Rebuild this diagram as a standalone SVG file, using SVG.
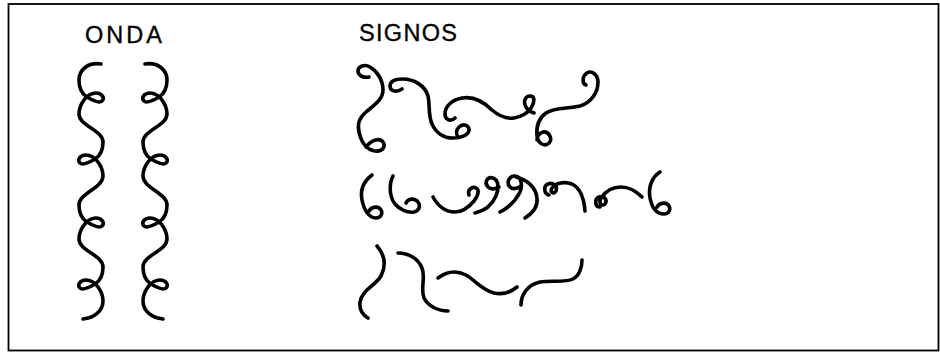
<svg xmlns="http://www.w3.org/2000/svg" xmlns:xlink="http://www.w3.org/1999/xlink" width="940" height="354" viewBox="0 0 940 354">
<style>
.s{fill:none;stroke:#000;stroke-width:3.6;stroke-linecap:round;stroke-linejoin:round}
.t{font-family:"Liberation Sans",Arial,sans-serif;font-size:23.5px;fill:#000;stroke:#000;stroke-width:0.35}
</style>
<defs>
<path id="wave" class="s" d="M101,64 C88,62 79,70 79,80 C79,88 82,94 87,97 C92,100 99,104 102,101 C105,98 102,93 96,93 C91,93 87,96 84,100 C81,104 79,108 79,114 C79,126 103,130 103,142 C103,150 100,156 95,159 C90,162 83,166 80,163 C77,160 80,155 86,155 C91,155 95,158 98,162 C101,166 103,170 103,176 C103,188 79,193 79,205 C79,213 82,219 87,222 C92,225 99,229 102,226 C105,223 102,218 96,218 C91,218 87,221 84,225 C81,229 79,233 79,239 C79,251 103,255 103,267 C103,275 100,281 95,284 C90,287 83,291 80,288 C77,285 80,280 86,280 C91,280 95,283 98,287 C101,291 103,295 103,301 C103,311 94,318 83,319"/>
</defs>
<rect x="8.5" y="4" width="930" height="346.5" fill="#fff" stroke="#000" stroke-width="1.8"/>
<text class="t" x="85" y="43" letter-spacing="3">ONDA</text>
<text class="t" x="359" y="41" letter-spacing="1.3">SIGNOS</text>
<g id="onda">
<use xlink:href="#wave"/>
<use xlink:href="#wave" transform="translate(246,0) scale(-1,1)"/>
</g>
<g id="signos-1">
<path class="s" d="M369,77 C364,78 358,76 358,71 C358,66 365,64 370,67 C377,71 383,80 383,90 C383,100 373,106 366,112 C360,117 357,124 359,132 C361,141 366,150 375,151 C383,152 386,146 383,142 C380,138 372,139 366,147"/>
<path class="s" d="M402,89 C396,93 390,91 390,86 C390,81 396,79 403,79 C413,79 425,85 428,96 C430,104 428,115 432,124 C436,133 444,138 453,138 C461,138 469,135 469,130 C469,125 463,123 459,127 C456,130 456,134 458,137"/>
<path class="s" d="M455,118 C451,122 445,120 445,114 C445,106 452,100 462,98 C474,96 484,102 492,110 C499,116 506,119 514,118 C521,117 528,113 531,108 C535,102 535,96 530,96 C525,96 523,102 526,107 C528,111 531,112 534,113"/>
<path class="s" d="M586,85 C582,84 582,76 587,73 C592,70 598,75 598,82 C598,92 592,102 580,106 C568,109 555,107 546,113 C539,118 536,126 537,136 C538,144 545,147 549,143 C553,139 549,131 543,132 C539,133 537,137 537,140"/>
</g>
<g id="signos-2">
<path class="s" d="M372,175 C364,181 360,190 362,200 C364,210 369,218 376,218 C381,218 383,213 381,210 C379,206 372,206 369,211"/>
<path class="s" d="M393,176 C389,184 389,196 395,204 C400,210 408,213 414,212 C419,211 421,206 418,202 C415,198 408,198 406,203"/>
<path class="s" d="M433,197 C438,206 446,212 455,212 C463,212 469,207 474,201 C478,196 480,190 476,188 C472,186 467,190 469,195"/>
<path class="s" d="M475,213 C484,211 492,205 496,196 C499,189 499,180 493,178 C487,176 484,183 488,187 C491,190 496,189 499,187"/>
<path class="s" d="M500,212 C508,208 516,200 520,192 C523,185 521,176 515,176 C509,176 506,183 510,187 C513,190 518,188 521,186"/>
<path class="s" d="M516,177 C528,180 536,188 537,198 C538,206 533,213 525,218"/>
<path class="s" d="M549,195 C544,194 543,186 548,184 C553,182 558,186 556,191 C554,195 549,192 552,188 C556,183 564,181 572,184 C580,188 584,198 585,211"/>
<path class="s" d="M600,207 C595,207 594,199 599,197 C604,195 608,200 605,204 C602,207 598,203 601,198 C605,192 612,187 621,187 C630,187 637,192 642,197"/>
<path class="s" d="M660,172 C652,177 648,187 650,198 C652,208 657,214 664,214 C669,214 671,209 669,206 C667,202 660,202 657,207"/>
</g>
<g id="signos-3">
<path class="s" d="M377,246 C384,254 387,264 381,276 C375,286 362,290 360,302 C359,310 363,315 368,318"/>
<path class="s" d="M398,253 C408,253 418,258 422,268 C426,278 420,288 424,298 C428,306 438,311 448,311"/>
<path class="s" d="M438,278 C446,272 456,270 466,275 C476,281 482,290 494,293 C503,295 511,292 517,287"/>
<path class="s" d="M521,305 C521,295 527,285 540,282 C550,280 565,283 573,279 C579,276 582,268 582,260"/>
</g>
</svg>
